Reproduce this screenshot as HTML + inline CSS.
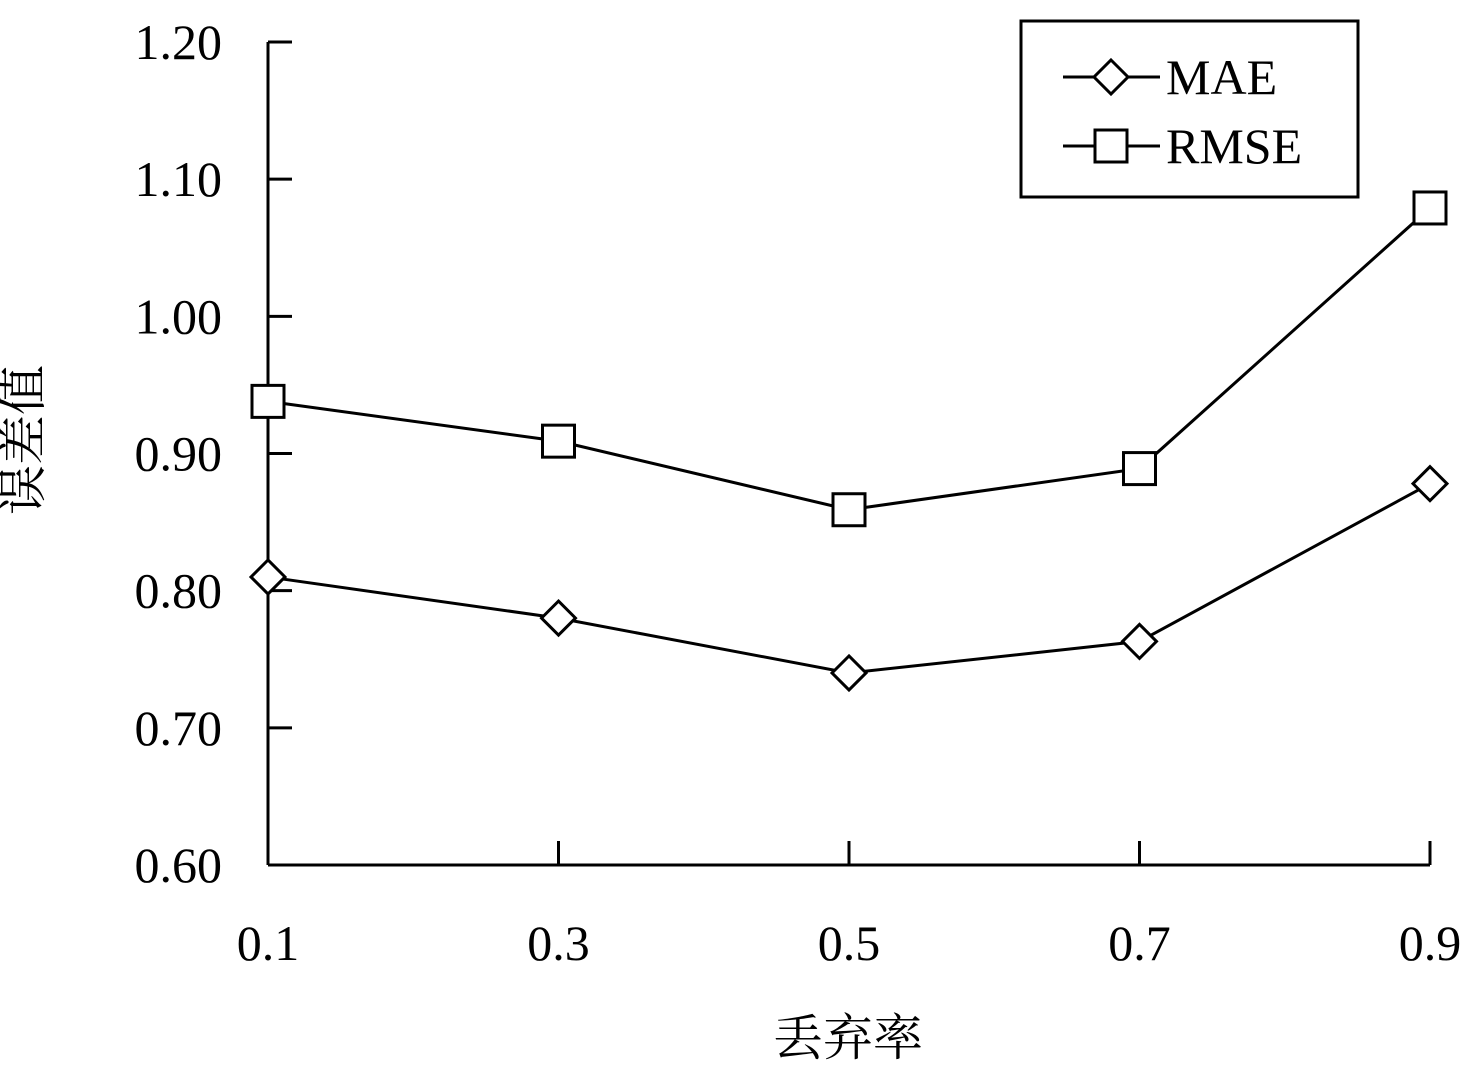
<!DOCTYPE html>
<html><head><meta charset="utf-8"><style>
html,body{margin:0;padding:0;background:#fff;}
svg{display:block;}
text{font-family:"Liberation Serif","Noto Serif CJK SC",serif;fill:#000;}
</style></head><body>
<svg id="chart" width="1471" height="1070">
<g id="axes"></g><g id="series"></g>
<g>
<rect x="1021" y="21" width="337" height="176" fill="#fff" stroke="#000" stroke-width="3"/>
<g>
<line x1="1063" y1="77" x2="1160" y2="77" stroke="#000" stroke-width="3"/>
<path d="M1111 60 L1128 77 L1111 94 L1094 77 Z" fill="#fff" stroke="#000" stroke-width="3"/>
<text x="1166" y="94" font-size="50">MAE</text></g>
<g>
<line x1="1063" y1="146" x2="1160" y2="146" stroke="#000" stroke-width="3"/>
<rect x="1095" y="130" width="32" height="32" fill="#fff" stroke="#000" stroke-width="3"/>
<text x="1166" y="163" font-size="50">RMSE</text></g>
</g>
<text x="40" y="440" font-size="50" text-anchor="middle" transform="rotate(-90 40 440)">误差值</text>
<text x="848" y="1055" font-size="50" text-anchor="middle">丢弃率</text>
</svg>
<script>
const categories=[0.1,0.3,0.5,0.7,0.9];
const xTickLabels=["0.1","0.3","0.5","0.7","0.9"];
const yTicks=[0.6,0.7,0.8,0.9,1.0,1.1,1.2];
const yTickLabels=["0.60","0.70","0.80","0.90","1.00","1.10","1.20"];
const maeValues=[0.81,0.78,0.74,0.763,0.878];
const rmseValues=[0.938,0.909,0.859,0.889,1.079];

const NS="http://www.w3.org/2000/svg";
const X0=268,X1=1430,Y0=865,Y1=42,ymin=0.6,ymax=1.2;
function xs(v){return X0+(v-0.1)/(0.9-0.1)*(X1-X0);}
function ys(v){return Y0-(v-ymin)/(ymax-ymin)*(Y0-Y1);}
function mk(t,a,p){const e=document.createElementNS(NS,t);for(const k in a)e.setAttribute(k,a[k]);p.appendChild(e);return e;}
const axes=document.getElementById('axes'),ser=document.getElementById('series');
let e=mk('line',{x1:X0,y1:Y1,x2:X0,y2:Y0,stroke:'#000','stroke-width':3},axes);


e=mk('line',{x1:X0,y1:Y0,x2:X1,y2:Y0,stroke:'#000','stroke-width':3},axes);


yTicks.forEach((v,i)=>{
 const t=mk('line',{x1:X0,y1:ys(v),x2:X0+24,y2:ys(v),stroke:'#000','stroke-width':3},axes);
 
 
 const l=mk('text',{x:222,y:ys(v)+17,'font-size':50,'text-anchor':'end'},axes);l.textContent=yTickLabels[i];
 
 
});
categories.forEach((c,i)=>{
 const t=mk('line',{x1:xs(c),y1:Y0,x2:xs(c),y2:Y0-24,stroke:'#000','stroke-width':3},axes);
 
 
 const l=mk('text',{x:xs(c),y:960,'font-size':50,'text-anchor':'middle'},axes);l.textContent=xTickLabels[i];
 
 
});
function line(vals,name){
 const p=mk('polyline',{points:vals.map((v,i)=>xs(categories[i])+','+ys(v)).join(' '),fill:'none',stroke:'#000','stroke-width':3},ser);
 
 
}
line(maeValues,'mae');line(rmseValues,'rmse');
maeValues.forEach((v,i)=>{const x=xs(categories[i]),y=ys(v);
 const m=mk('path',{d:`M${x} ${y-17} L${x+17} ${y} L${x} ${y+17} L${x-17} ${y} Z`,fill:'#fff',stroke:'#000','stroke-width':3},ser);
 
 
});
rmseValues.forEach((v,i)=>{const x=xs(categories[i]),y=ys(v);
 const m=mk('rect',{x:x-16,y:y-16,width:32,height:32,fill:'#fff',stroke:'#000','stroke-width':3},ser);
 
 
});
</script>
</body></html>
